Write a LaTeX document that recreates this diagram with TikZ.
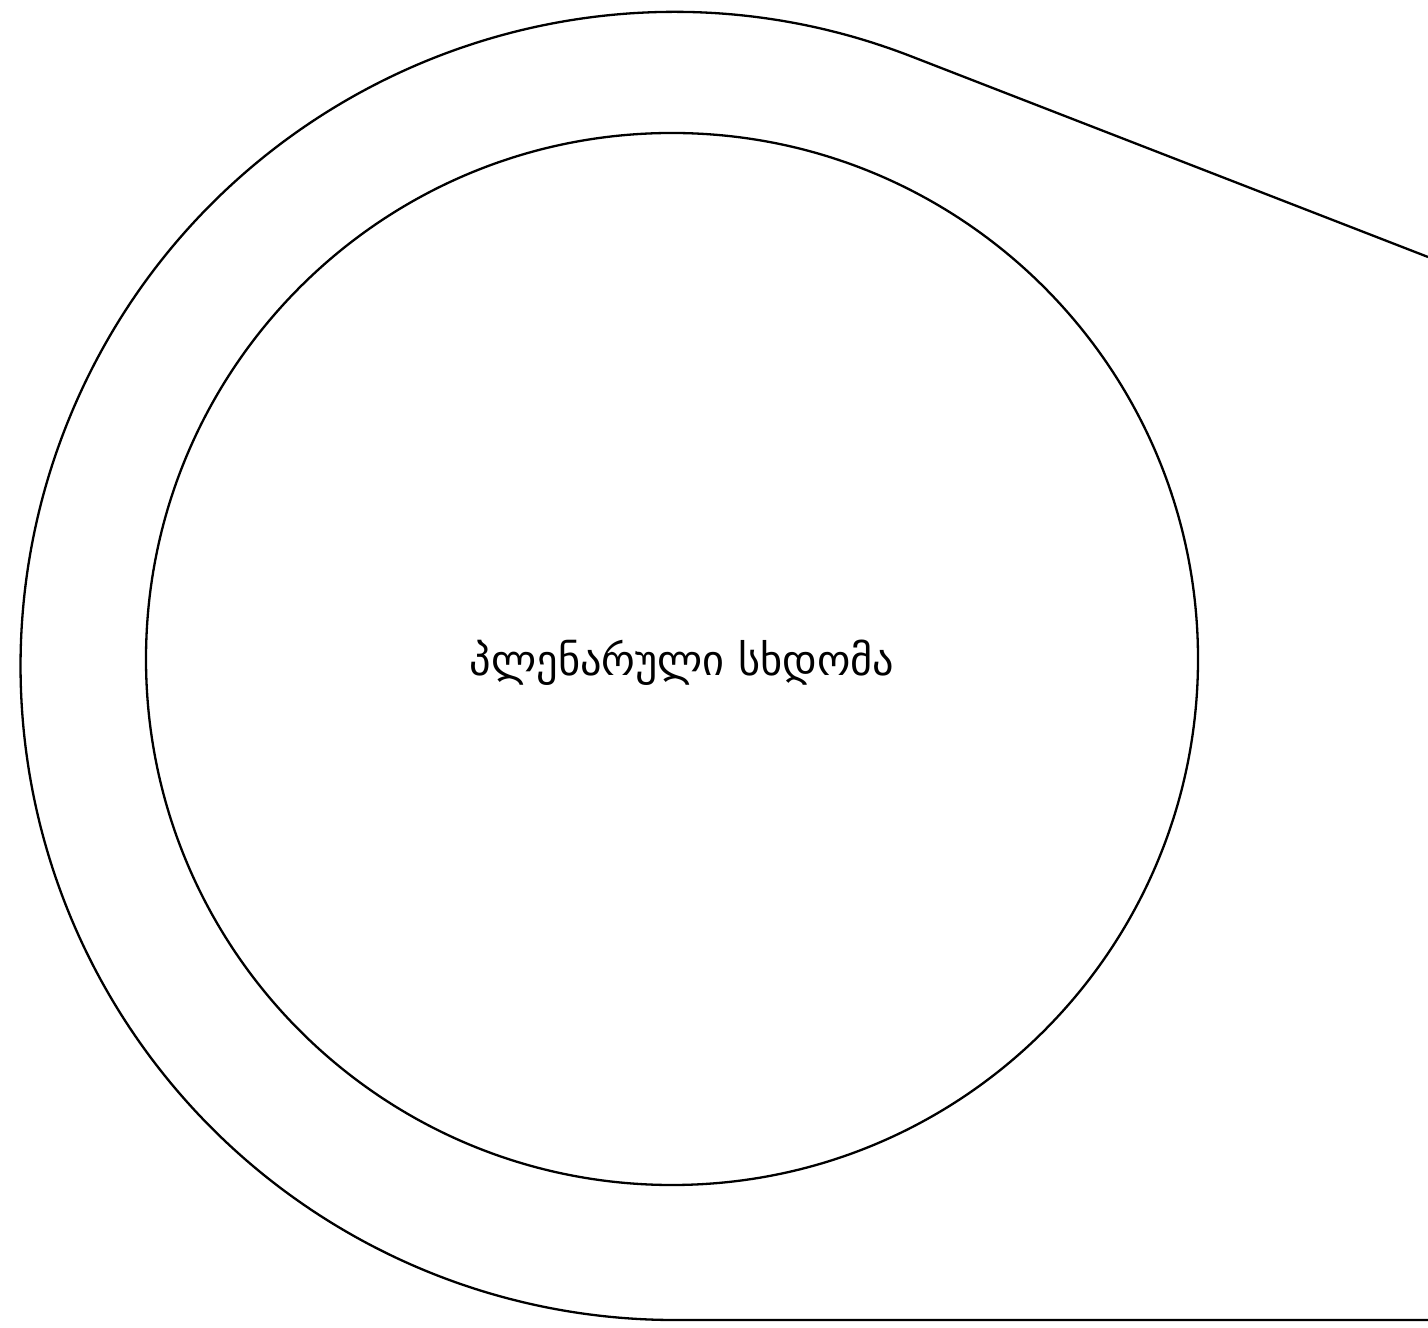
\documentclass[tikz,border=0pt]{standalone}
\usepackage{fontspec}
\usetikzlibrary{calc}
\newfontfamily\geofont{DejaVu Sans}
\begin{document}
\begin{tikzpicture}[x=0.5pt,y=0.5pt,
  outline/.style={draw=black,line width=1.15pt},
  label/.style={font=\geofont\fontsize{21.2}{25}\selectfont,inner sep=0pt}]
\useasboundingbox (0,0) rectangle (1428,1327);
\coordinate (C) at (674.5,661);
\coordinate (Pr) at (1428,1070);
\coordinate (Pb) at (1428,7);
\draw[outline] (Pr) -- ($(C)+(68.8:654)$) arc[start angle=68.8,end angle=270,radius=654] -- (Pb);
\node[outline,circle,minimum size=526pt,inner sep=0pt] (inner) at (672,668) {};
\node[label] (t) at (682,664) {პლენარული სხდომა};
\end{tikzpicture}
\end{document}
